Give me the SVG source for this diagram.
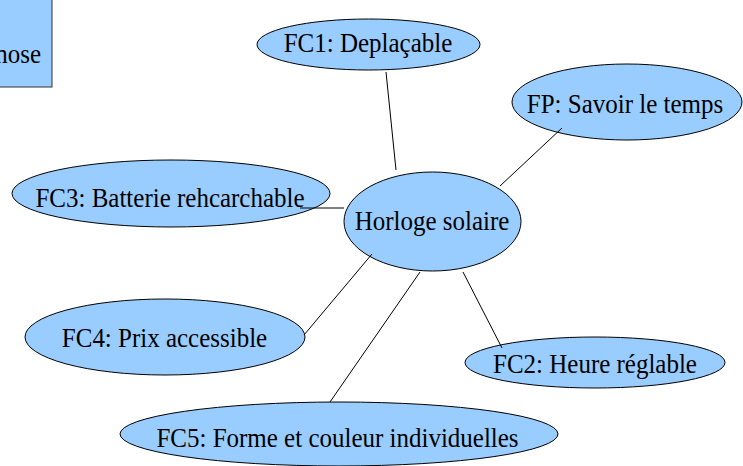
<svg xmlns="http://www.w3.org/2000/svg" width="743" height="466" viewBox="0 0 743 466">
<style>
.node{fill:#99ccff;stroke:#000;stroke-width:1}
.box{fill:#99ccff;stroke:#333;stroke-width:1}
text{font-family:'Liberation Serif','Times New Roman','DejaVu Serif',serif;font-size:25px;fill:#000;text-anchor:middle}
.conn line{stroke:#000;stroke-width:1}
</style>
<rect width="743" height="466" fill="#fff"/>
<g id="box">
<rect class="box" x="-2" y="-2" width="54" height="89"/>
<text transform="translate(41,63) scale(1,1.09)" text-anchor="end" style="text-anchor:end">nose</text>
</g>
<g id="fc1">
<ellipse class="node" cx="368.5" cy="44.5" rx="111.5" ry="25.5"/>
<text transform="translate(368,52) scale(1,1.09)">FC1: Deplaçable</text>
</g>
<g id="fp">
<ellipse class="node" cx="627" cy="102" rx="115" ry="38"/>
<text transform="translate(625,113) scale(1,1.09)">FP: Savoir le temps</text>
</g>
<g id="fc3">
<ellipse class="node" cx="171" cy="193.5" rx="159" ry="33.5"/>
<text transform="translate(170,207) scale(1,1.09)">FC3: Batterie rehcarchable</text>
</g>
<g id="horloge">
<ellipse class="node" cx="432.5" cy="221.5" rx="88.5" ry="49.5"/>
<text transform="translate(432,230) scale(1,1.09)">Horloge solaire</text>
</g>
<g id="fc4">
<ellipse class="node" cx="165" cy="337" rx="140" ry="38"/>
<text transform="translate(164.5,347) scale(1,1.09)">FC4: Prix accessible</text>
</g>
<g id="fc2">
<ellipse class="node" cx="595" cy="362.5" rx="130" ry="25.5"/>
<text transform="translate(595,373) scale(1,1.09)">FC2: Heure réglable</text>
</g>
<g id="fc5">
<ellipse class="node" cx="339" cy="434" rx="219" ry="32"/>
<text transform="translate(337.5,447) scale(1,1.09)">FC5: Forme et couleur individuelles</text>
</g>
<g id="connectors" class="conn">
<line x1="386" y1="72" x2="396" y2="170"/>
<line x1="562" y1="128" x2="500" y2="186"/>
<line x1="300" y1="208" x2="344" y2="208"/>
<line x1="372" y1="254" x2="304" y2="335"/>
<line x1="420" y1="272" x2="330" y2="402"/>
<line x1="463" y1="272" x2="502" y2="348"/>
</g>
</svg>
